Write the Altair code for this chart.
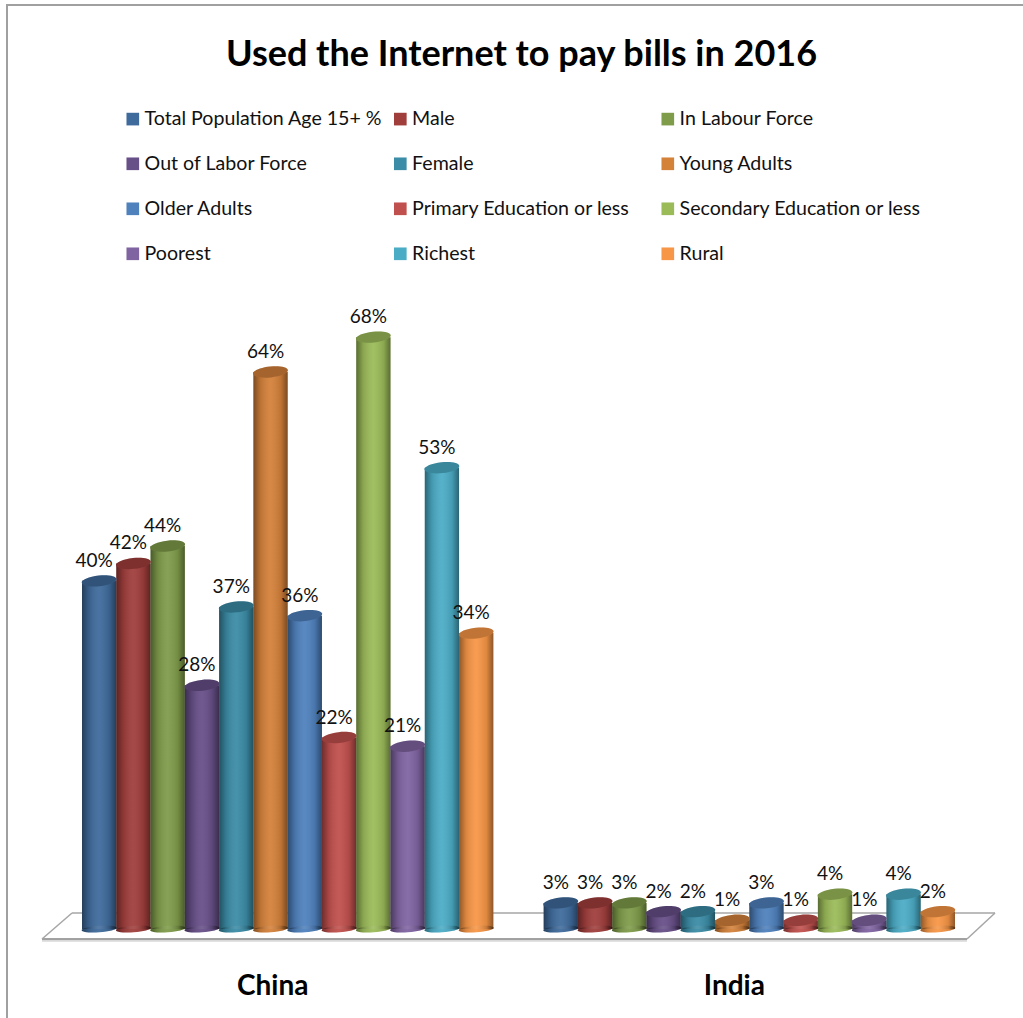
import altair as alt
import pandas as pd

countries = ["China", "India"]
series = [
    "Total Population Age 15+ %", "Male", "In Labour Force",
    "Out of Labor Force", "Female", "Young Adults",
    "Older Adults", "Primary Education or less", "Secondary Education or less",
    "Poorest", "Richest", "Rural",
]
china = [0.40, 0.42, 0.44, 0.28, 0.37, 0.64, 0.36, 0.22, 0.68, 0.21, 0.53, 0.34]
india = [0.03, 0.03, 0.03, 0.02, 0.02, 0.01, 0.03, 0.01, 0.04, 0.01, 0.04, 0.02]
colors = [
    "#3F6B9C", "#A03E3C", "#7F9C4A", "#674F88", "#3B8CA6", "#D4813A",
    "#4F81BD", "#C0504D", "#9BBB59", "#8064A2", "#4BACC6", "#F79646",
]

FONT = "Lato"

df = pd.DataFrame(
    [{"country": "China", "series": s, "value": v} for s, v in zip(series, china)]
    + [{"country": "India", "series": s, "value": v} for s, v in zip(series, india)]
)

x = alt.X(
    "country:N",
    sort=countries,
    title=None,
    scale=alt.Scale(domain=countries, range=[82, 955], paddingInner=0.109, paddingOuter=0),
    axis=alt.Axis(
        domain=False, ticks=False, labelAngle=0, labelFont=FONT, labelFontWeight="bold",
        labelFontSize=28, labelColor="#000000", labelPadding=43, labelOffset=-15,
    ),
)
x_offset = alt.XOffset("series:N", sort=series, scale=alt.Scale(domain=series, padding=0))
y_scale = alt.Scale(domain=[0, 0.964], nice=False, zero=True)
y = alt.Y("value:Q", title=None, axis=None, scale=y_scale)
y_foot = alt.Y(datum=0, type="quantitative", title=None, axis=None, scale=y_scale)
color_flat = alt.Color(
    "series:N",
    sort=series,
    scale=alt.Scale(domain=series, range=colors),
    legend=alt.Legend(
        title=None, orient="none", legendX=123, legendY=19, direction="horizontal",
        columns=3, gridAlign="all", columnPadding=4.5, rowPadding=24,
        symbolType="square", symbolSize=160, symbolStrokeWidth=0, labelFont=FONT,
        labelFontSize=19.6, labelColor="#111111", labelLimit=300, labelOffset=2,
    ),
)
color_plain = alt.Color(
    "series:N", sort=series, scale=alt.Scale(domain=series, range=colors), legend=None
)

# Cylinder shading: dark edges fading to a lit centre, laid over the flat colours
shade = alt.LinearGradient(
    gradient="linear", x1=0, x2=1, y1=0, y2=0,
    stops=[
        alt.GradientStop(color="rgba(0,0,0,0.42)", offset=0),
        alt.GradientStop(color="rgba(0,0,0,0.12)", offset=0.2),
        alt.GradientStop(color="rgba(255,255,255,0.06)", offset=0.5),
        alt.GradientStop(color="rgba(0,0,0,0.10)", offset=0.8),
        alt.GradientStop(color="rgba(0,0,0,0.42)", offset=1),
    ],
)

CAP = "M-1,0 A1,0.31 0 1,1 1,0 A1,0.31 0 1,1 -1,0 Z"
FOOT = "M-1,0 A1,0.19 0 1,1 1,0 A1,0.19 0 1,1 -1,0 Z"
ELLIPSE_SIZE = 1225

base = alt.Chart(df)

bars = base.mark_bar(opacity=1).encode(x=x, xOffset=x_offset, y=y, color=color_flat)
bar_shade = base.mark_bar(fill=shade).encode(x=x, xOffset=x_offset, y=y)

feet = base.mark_point(filled=True, opacity=1, shape=FOOT, size=ELLIPSE_SIZE, angle=356).encode(
    x=x, xOffset=x_offset, y=y_foot, color=color_plain,
)
foot_shade = base.mark_point(filled=True, opacity=1, fill=shade, shape=FOOT, size=ELLIPSE_SIZE, angle=356).encode(
    x=x, xOffset=x_offset, y=y_foot,
)
caps = base.mark_point(filled=True, opacity=1, shape=CAP, size=ELLIPSE_SIZE, angle=354).encode(
    x=x, xOffset=x_offset, y=y, color=color_plain,
)
cap_shade = base.mark_point(filled=True, fill="#000000", opacity=0.22, shape=CAP, size=ELLIPSE_SIZE, angle=354).encode(
    x=x, xOffset=x_offset, y=y,
)
labels = base.mark_text(
    font=FONT, fontSize=19, color="#111111", dx=-5, dy=-20, baseline="middle",
).encode(x=x, xOffset=x_offset, y=y, text=alt.Text("value:Q", format=".0%"))


def edge(x1, y1, x2, y2, color="#a6a6a6", width=1.5):
    return alt.Chart(pd.DataFrame({"k": [0]})).mark_rule(color=color, strokeWidth=width).encode(
        x=alt.value(x1), y=alt.value(y1), x2=alt.value(x2), y2=alt.value(y2)
    )


# Floor of the 3-D plot, in pixels below the plot origin (top padding 90)
floor = (
    edge(42, 850, 967, 850, "#d9d9d9", 3.5)
    + edge(42, 849, 967, 849, "#8c8c8c", 1.5)
    + edge(42, 849, 72, 823)
    + edge(72, 823, 995, 823)
    + edge(995, 823, 967, 849)
)
# Outer frame of the figure
frame = (
    edge(7, -85, 7, 928, "#a0a0a0", 2)
    + edge(6, -85, 1023, -85, "#a0a0a0", 2)
)

chart = (
    alt.layer(frame, floor, bars, feet, foot_shade, bar_shade, caps, cap_shade, labels)
    .properties(
        width=1023,
        height=839,
        padding={"left": 0, "right": 0, "top": 90, "bottom": 89},
        autosize=alt.AutoSizeParams(type="none"),
        title=alt.TitleParams(
            "Used the Internet to pay bills in 2016",
            font=FONT, fontSize=36, fontWeight="bold", color="#000000",
            anchor="middle", frame="group", offset=-70, dx=10,
        ),
        background="white",
    )
    .configure_view(stroke=None)
)

chart.save("out.html", embed_options={"renderer": "svg", "actions": False})
